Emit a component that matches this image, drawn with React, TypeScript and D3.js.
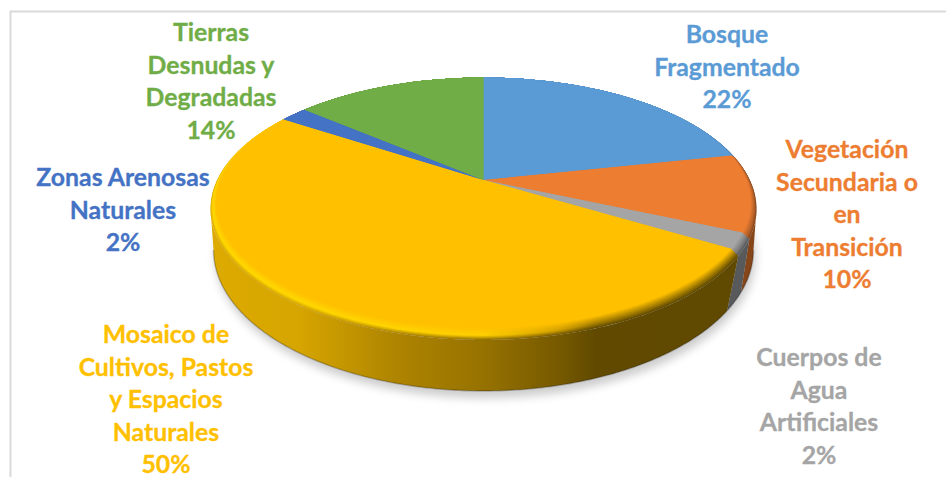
import React from "react";
import * as d3 from "d3";

const categories = [
  "Bosque Fragmentado",
  "Vegetación Secundaria o en Transición",
  "Cuerpos de Agua Artificiales",
  "Mosaico de Cultivos, Pastos y Espacios Naturales",
  "Zonas Arenosas Naturales",
  "Tierras Desnudas y Degradadas",
];
const values = [22, 10, 2, 50, 2, 14];
const colors = ["#5b9bd5", "#ed7d31", "#a5a5a5", "#ffc000", "#4472c4", "#70ad47"];

// Wrapped label lines, percent appended from the values above
const labelLines = [
  ["Bosque", "Fragmentado"],
  ["Vegetación", "Secundaria o", "en", "Transición"],
  ["Cuerpos de", "Agua", "Artificiales"],
  ["Mosaico de", "Cultivos, Pastos", "y Espacios", "Naturales"],
  ["Zonas Arenosas", "Naturales"],
  ["Tierras", "Desnudas y", "Degradadas"],
];
const labelCenters = [727, 847, 819, 166, 123, 211];
const labelTops = [43, 158, 366, 343, 186, 41];
const labelStep = 32.5;

const WIDTH = 946;
const HEIGHT = 477;
const CX = 483.5;
const APEX_Y = 180;
const TILT = 0.219;
// Angle at which the tilted disc reaches its widest point on screen
const SIDE = Math.acos(-TILT);

// Perspective projection of the unit disc onto the page
const projectTop = (a: number) => {
  const s = Math.sin(a), c = Math.cos(a), d = 1 + TILT * c;
  return [CX + (266.4 * s) / d, (APEX_Y - 85.5 * c) / d];
};
const projectBottom = (a: number) => {
  const s = Math.sin(a), c = Math.cos(a), d = 1 + TILT * c;
  return [CX + (263.4 * s) / d, (219.1 - 86.2 * c) / d];
};

// Top rim pulled inward for the bevel layers; t runs from edge (0) to flat face (1)
const BEVEL_DROP = 12;
const BEVEL_SIDE = 0.035;
const projectBevel = (a: number, t: number) => {
  const [x, y] = projectTop(a);
  const w = (1 - Math.cos(a)) / 2;
  return [CX + (x - CX) * (1 - t * BEVEL_SIDE * w), y - t * BEVEL_DROP * w * w];
};

const sample = (a: number, b: number) => {
  const n = Math.max(2, Math.ceil(Math.abs(b - a) / 0.01));
  return d3.range(n + 1).map((i) => a + ((b - a) * i) / n);
};

const pen = d3.line<number[]>().x((d) => d[0]).y((d) => d[1]);
const arcs = d3.pie<number>().sort(null)(values);

// Side wall colour ramps, read left to right along the disc
const rampX = [215, 300, 400, 483, 560, 595, 760];
const yellowWall = ["#dcaa00", "#d6a500", "#ad8300", "#967200", "#765900", "#614a00", "#604900"];
const yellowGlow = ["#ffd800", "#ffd800", "#ffd400", "#ffcf00", "#d09e00", "#a07a00", "#906e00"];
const orangeWall = Array(7).fill("#86461a");
const orangeGlow = Array(7).fill("#b5612a");
const grayWall = Array(7).fill("#58595b");
const grayGlow = Array(7).fill("#7a7a7a");
const blueEdge = Array(7).fill("#4a80b2");
const darkBlueEdge = Array(7).fill("#3a62aa");
const greenEdge = Array(7).fill("#5f9439");

const wallRamps = [blueEdge, orangeWall, grayWall, yellowWall, darkBlueEdge, greenEdge];
const glowRamps = [blueEdge, orangeGlow, grayGlow, yellowGlow, darkBlueEdge, greenEdge];

const LAYERS = 14;
const GLOW_AT = 0.35;
const layerTs = d3.range(LAYERS + 1).map((i) => i / LAYERS);

const layerStop = (slice: number, stop: number, t: number) => {
  if (t < GLOW_AT) {
    return d3.interpolateRgb(wallRamps[slice][stop], glowRamps[slice][stop])(t / GLOW_AT);
  }
  return d3.interpolateRgb(glowRamps[slice][stop], colors[slice])((t - GLOW_AT) / (1 - GLOW_AT));
};

const facePath = (start: number, end: number, t: number) =>
  pen([[CX, APEX_Y], ...sample(start, end).map((a) => projectBevel(a, t))]) + "Z";

const WALL_TWIST = (4 * Math.PI) / 180;
const wallPath = (start: number, end: number) => {
  const a = Math.max(start, SIDE);
  const b = Math.min(end, 2 * Math.PI - SIDE);
  if (a >= b) return null;
  const a2 = start < SIDE ? a : a + WALL_TWIST;
  const b2 = end > 2 * Math.PI - SIDE ? b : b + WALL_TWIST;
  return (
    pen([
      ...sample(a, b).map(projectTop),
      ...sample(b2, a2).map(projectBottom),
    ]) + "Z"
  );
};

const silhouette = pen(sample(0, 2 * Math.PI).map(projectBottom)) + "Z";
const underEdge = pen(sample(SIDE, 2 * Math.PI - SIDE).map(projectBottom)) ?? "";

export default function App() {
  return (
    <svg
      width={WIDTH}
      height={HEIGHT}
      viewBox={`0 0 ${WIDTH} ${HEIGHT}`}
      style={{ position: "absolute", left: 0, top: 0, background: "#fff" }}
    >
      <defs>
        <filter id="dropShadow" x="-10%" y="-10%" width="120%" height="130%">
          <feGaussianBlur stdDeviation="5" />
        </filter>
        <filter id="edgeSoft" x="-5%" y="-5%" width="110%" height="110%">
          <feGaussianBlur stdDeviation="0.7" />
        </filter>
        <linearGradient id="wall-3" gradientUnits="userSpaceOnUse" x1={rampX[0]} x2={rampX[6]} y1={0} y2={0}>
          {rampX.map((x, s) => (
            <stop
              key={s}
              offset={(x - rampX[0]) / (rampX[6] - rampX[0])}
              stopColor={yellowWall[s]}
            />
          ))}
        </linearGradient>
        {arcs.map((_, i) =>
          layerTs.map((t, j) => (
            <linearGradient
              key={`${i}-${j}`}
              id={`face-${i}-${j}`}
              gradientUnits="userSpaceOnUse"
              x1={rampX[0]}
              x2={rampX[6]}
              y1={0}
              y2={0}
            >
              {rampX.map((x, s) => (
                <stop
                  key={s}
                  offset={(x - rampX[0]) / (rampX[6] - rampX[0])}
                  stopColor={layerStop(i, s, t)}
                />
              ))}
            </linearGradient>
          ))
        )}
      </defs>

      {/* Chart area border: only the top and left sides fall inside the frame */}
      <path d={`M10.5 ${HEIGHT}V11.5H${WIDTH}`} fill="none" stroke="#d9d9d9" strokeWidth={2} />

      {/* Soft shadow under the disc */}
      <path
        d={silhouette}
        fill="#000"
        opacity={0.2}
        filter="url(#dropShadow)"
        transform="translate(2 7)"
      />

      {/* Side walls */}
      {arcs.map((d, i) => {
        const p = wallPath(d.startAngle, d.endAngle);
        if (!p) return null;
        return (
          <path key={i} d={p} fill={i === 3 ? "url(#wall-3)" : wallRamps[i][0]} />
        );
      })}
      <path d={underEdge} fill="none" stroke="#000" strokeOpacity={0.22} strokeWidth={1.6} filter="url(#edgeSoft)" />

      {/* Top face, stacked from the outer bevel to the flat surface */}
      {layerTs.map((t, j) =>
        arcs.map((d, i) => (
          <path
            key={`${j}-${i}`}
            d={facePath(d.startAngle, d.endAngle, t)}
            fill={j === LAYERS ? colors[i] : `url(#face-${i}-${j})`}
          />
        ))
      )}

      {/* Data labels */}
      {arcs.map((d, i) => {
        const lines = [...labelLines[i], `${values[d.index]}%`];
        return (
          <text
            key={categories[i]}
            x={labelCenters[i]}
            y={labelTops[i]}
            fill={colors[i]}
            stroke={colors[i]}
            strokeWidth={0.3}
            textAnchor="middle"
            fontFamily="Lato, 'Open Sans', sans-serif"
            fontWeight={700}
            fontSize={24.8}
          >
            {lines.map((line, k) => (
              <tspan key={k} x={labelCenters[i]} y={labelTops[i] + k * labelStep}>
                {line}
              </tspan>
            ))}
          </text>
        );
      })}
    </svg>
  );
}
